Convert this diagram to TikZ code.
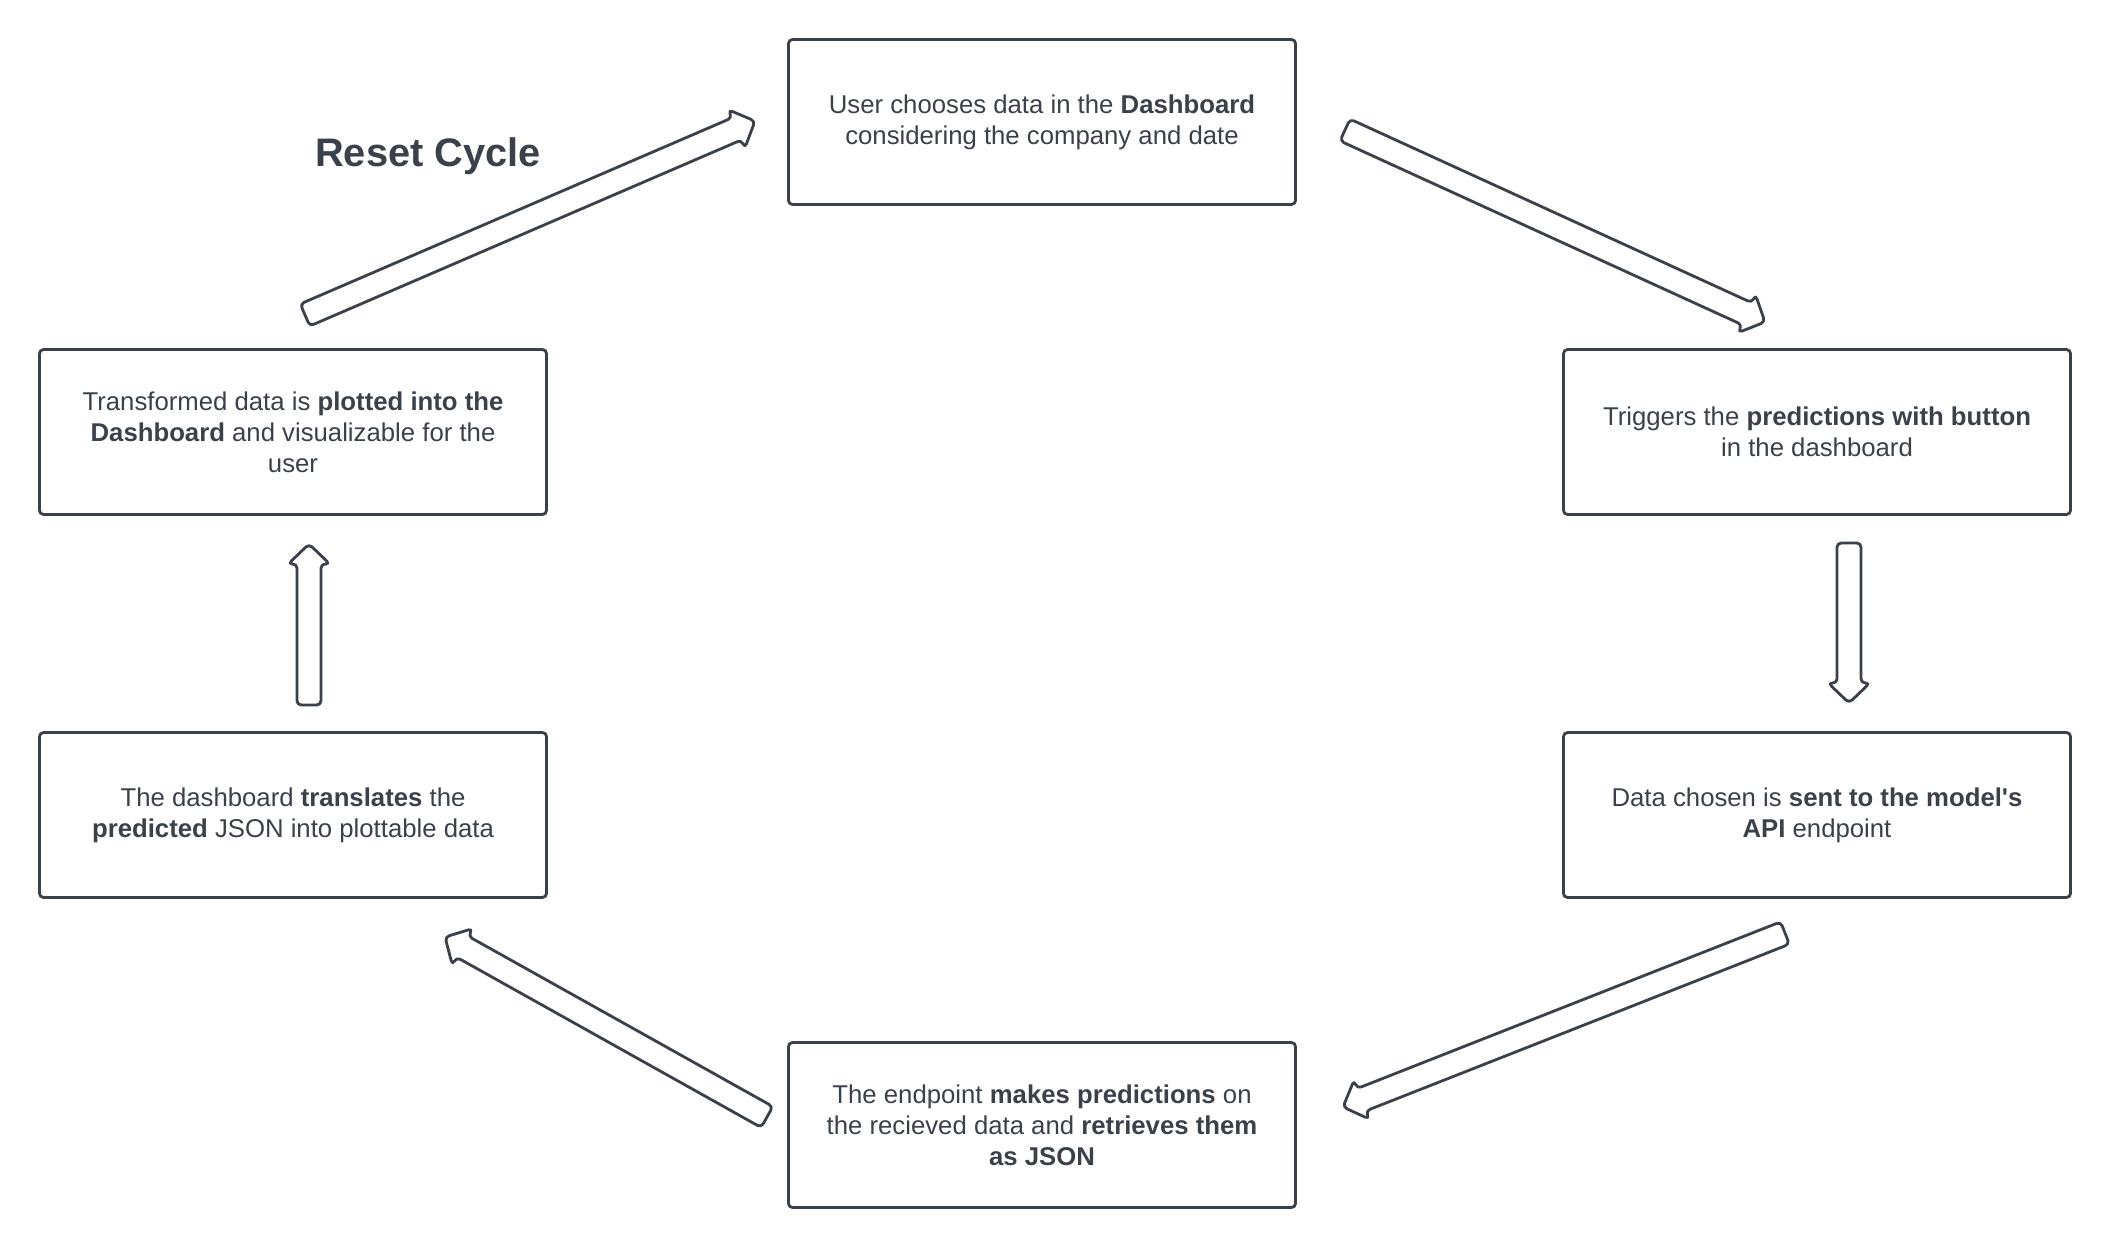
\documentclass[tikz,border=0pt]{standalone}
\usepackage{fontspec}
\setmainfont{Liberation Sans}
\usetikzlibrary{calc}
\definecolor{slate}{HTML}{3A414A}

\newcommand{\cyclearrow}[2]{%
  \coordinate (neck) at ($(#2)!0.5cm!(#1)$);
  \draw[hollow] ($(#1)!0.3cm!90:(#2)$) -- ($(neck)!0.3cm!90:(#2)$) -- ($(neck)!0.52cm!90:(#2)$) -- (#2)
    -- ($(neck)!0.52cm!-90:(#2)$) -- ($(neck)!0.3cm!-90:(#2)$) -- ($(#1)!0.3cm!-90:(#2)$) -- cycle;}

\begin{document}
\begin{tikzpicture}[x=0.025cm,y=-0.025cm]
\tikzstyle{stage}=[draw=slate,line width=2pt,rounded corners=3pt,minimum width=12.675cm,minimum height=4.125cm,align=center,text=slate,font=\fontsize{18.3}{22}\selectfont]
\tikzstyle{hollow}=[draw=slate,line width=2pt,rounded corners=3pt,line join=round,fill=white]
\useasboundingbox (0,0) rectangle (2112,1248);
	\node[stage] (user) at (1042,122) {User chooses data in the \textbf{Dashboard}\\considering the company and date};
	\node[stage] (trigger) at (1817,432) {Triggers the \textbf{predictions with button}\\in the dashboard};
	\node[stage] (send) at (1817,815) {Data chosen is \textbf{sent to the model\textquotesingle s}\\\textbf{API} endpoint};
	\node[stage] (predict) at (1042,1125) {The endpoint \textbf{makes predictions} on\\the recieved data and \textbf{retrieves them}\\\textbf{as JSON}};
	\node[stage] (translate) at (293,815) {The dashboard \textbf{translates} the\\\textbf{predicted} JSON into plottable data};
	\node[stage] (plot) at (293,432) {Transformed data is \textbf{plotted into the}\\\textbf{Dashboard} and visualizable for the\\user};
\par
\node[text=slate,font=\fontsize{28.3}{32}\selectfont\bfseries] (reset) at (428,156) {Reset Cycle};
\par
\coordinate (a1) at (305,315);
	\coordinate (b1) at (755,121);
	\coordinate (a2) at (1345,130);
	\coordinate (b2) at (1765,322);
	\coordinate (a3) at (1849,543);
	\coordinate (b3) at (1849,703);
	\coordinate (a4) at (1785,933);
	\coordinate (b4) at (1343,1107);
	\coordinate (a5) at (767,1117);
	\coordinate (b5) at (445,937);
	\coordinate (a6) at (309,705);
	\coordinate (b6) at (309,544);
\par
\cyclearrow{a1}{b1}
	\cyclearrow{a2}{b2}
	\cyclearrow{a3}{b3}
	\cyclearrow{a4}{b4}
	\cyclearrow{a5}{b5}
	\cyclearrow{a6}{b6}
\end{tikzpicture}
\end{document}
